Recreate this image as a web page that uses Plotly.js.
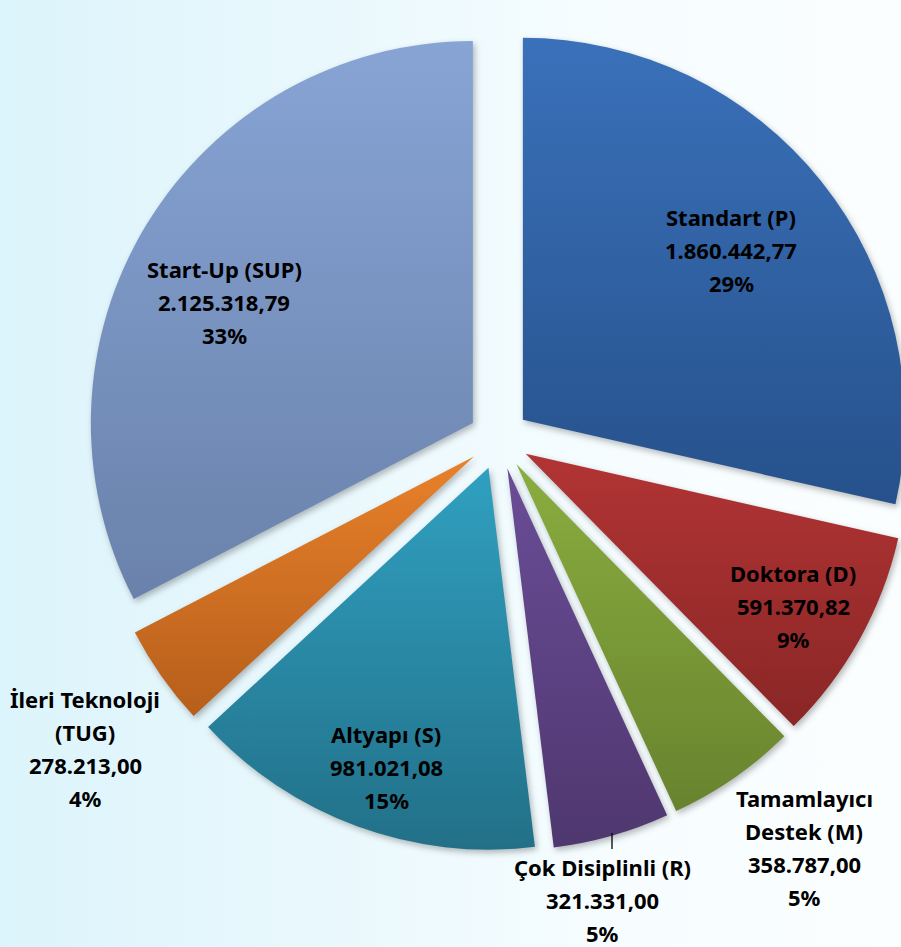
<!DOCTYPE html>
<html>
<head>
<meta charset="utf-8">
<script src="https://cdn.plot.ly/plotly-3.0.1.min.js"></script>
<style>
  html, body { margin: 0; padding: 0; overflow: hidden; width: 901px; height: 947px; }
  body { background: linear-gradient(90deg, #dcf4fb 0%, #e9f8fd 35%, #f7fdff 70%, #fbfeff 100%); }
  #chart { width: 930px; height: 947px; }
  #chart .slice path.surface { filter: drop-shadow(2px 3px 3px rgba(0,0,0,0.28)); }
</style>
</head>
<body>
<div id="chart"></div>
<script>
// ---- data ----
const labels = ['Standart (P)', 'Doktora (D)', 'Tamamlayıcı<br>Destek (M)', 'Çok Disiplinli (R)',
                'Altyapı (S)', 'İleri Teknoloji<br>(TUG)', 'Start-Up (SUP)'];
const values = [1860442.77, 591370.82, 358787.00, 321331.00, 981021.08, 278213.00, 2125318.79];

// ---- styles ----
const baseColors = ['#30619f', '#a12f2f', '#7b9a37', '#5d4386', '#2a8aa6', '#d1701f', '#7a93c2'];
const gradTop    = ['#3a71ba', '#b23434', '#8aad3f', '#6a4d97', '#30a0c0', '#e8812a', '#87a4d5'];
const gradBot    = ['#26518b', '#8a2626', '#68832e', '#4f376f', '#227088', '#b65e1b', '#6a82ab'];
// label anchor (pixel: centre x, first line y)
const labelPos = [[731, 217], [793, 573], [804, 798], [602, 867], [386, 734], [85, 699], [224, 269]];
const lineGap = 33;
const W = 930, H = 947;

function trNum(v) {
  const parts = v.toFixed(2).split('.');
  parts[0] = parts[0].replace(/\B(?=(\d{3})+(?!\d))/g, '.');
  return parts[0] + ',' + parts[1];
}
const total = values.reduce((a, b) => a + b, 0);
// whole-number percentages that add up to 100 (largest remainder)
const rawPct = values.map(v => v / total * 100);
const pct = rawPct.map(Math.floor);
let left = 100 - pct.reduce((a, b) => a + b, 0);
rawPct.map((p, i) => [p - Math.floor(p), i]).sort((a, b) => b[0] - a[0])
  .slice(0, left).forEach(([, i]) => { pct[i] += 1; });

const annotations = [];
labels.forEach((lab, i) => {
  const lines = lab.split('<br>').concat([trNum(values[i]), pct[i] + '%']);
  lines.forEach((t, k) => {
    annotations.push({
      x: labelPos[i][0] / W, y: 1 - (labelPos[i][1] + k * lineGap) / H,
      xref: 'paper', yref: 'paper', xanchor: 'center', yanchor: 'middle',
      text: t, showarrow: false,
      font: { family: 'Noto Sans, sans-serif', size: 22, color: '#000', weight: 700 }
    });
  });
});

const trace = {
  type: 'pie',
  labels: labels,
  values: values,
  sort: false,
  direction: 'clockwise',
  rotation: 0,
  pull: labels.map(() => 0.08),
  marker: { colors: baseColors, line: { width: 0 } },
  textinfo: 'none',
  hoverinfo: 'label+value+percent',
  domain: { x: [0.0929, 0.9802], y: [0.09, 0.983] },
  showlegend: false
};

const layout = {
  width: W, height: H,
  margin: { l: 0, r: 0, t: 0, b: 0 },
  paper_bgcolor: 'rgba(0,0,0,0)',
  plot_bgcolor: 'rgba(0,0,0,0)',
  showlegend: false,
  annotations: annotations,
  shapes: [{
    type: 'line', xref: 'paper', yref: 'paper',
    x0: 612 / W, x1: 612 / W, y0: 1 - 833 / H, y1: 1 - 849 / H,
    line: { color: '#000', width: 1.3 }
  }]
};

Plotly.newPlot('chart', [trace], layout, { displayModeBar: false, staticPlot: true }).then(gd => {
  const svg = gd.querySelector('svg.main-svg');
  let defs = svg.querySelector('defs');
  if (!defs) { defs = document.createElementNS('http://www.w3.org/2000/svg', 'defs'); svg.insertBefore(defs, svg.firstChild); }
  const ns = 'http://www.w3.org/2000/svg';
  gd.querySelectorAll('.slice path.surface').forEach((p, i) => {
    const g = document.createElementNS(ns, 'linearGradient');
    g.setAttribute('id', 'sg' + i);
    g.setAttribute('x1', '0'); g.setAttribute('y1', '0');
    g.setAttribute('x2', '0'); g.setAttribute('y2', '1');
    [[0, gradTop[i]], [1, gradBot[i]]].forEach(([o, c]) => {
      const s = document.createElementNS(ns, 'stop');
      s.setAttribute('offset', o); s.setAttribute('stop-color', c);
      g.appendChild(s);
    });
    defs.appendChild(g);
    p.style.fill = 'url(#sg' + i + ')';
  });
});
</script>
</body>
</html>
